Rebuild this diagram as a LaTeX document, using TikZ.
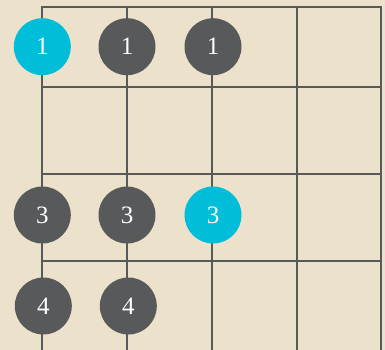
\documentclass[tikz,border=0pt]{standalone}
\usepackage{fontspec}
\setmainfont{Liberation Serif}
\definecolor{paper}{HTML}{ECE2CB}
\definecolor{gridc}{HTML}{58595B}
\definecolor{dotc}{HTML}{58595B}
\definecolor{rootc}{HTML}{00BED9}
\begin{document}
\begin{tikzpicture}[x=1pt,y=-1pt,
  gridline/.style={draw=gridc,line width=2.2pt},
  dot/.style={circle,fill=dotc,minimum size=57pt,inner sep=0pt,text=white,font=\fontsize{25}{25}\selectfont},
  root/.style={dot,fill=rootc}]
\fill[paper] (0,0) rectangle (385,350);
\useasboundingbox (0,0) rectangle (385,350);
\foreach \x in {42,127,212,297,381} \draw[gridline] (\x,7.3) -- (\x,351);
\foreach \y in {7.3,87.3,174,261.3} \draw[gridline] (41,\y) -- (382,\y);
\node[root] (a1) at (42.3,46.7) {1};
\node[dot] (a2) at (127,46.7) {1};
\node[dot] (a3) at (213,46.7) {1};
\node[dot] (c1) at (42.3,215) {3};
\node[dot] (c2) at (127,215) {3};
\node[root] (c3) at (213,215) {3};
\node[dot] (d1) at (43.3,306) {4};
\node[dot] (d2) at (128.3,306) {4};
\end{tikzpicture}
\end{document}
